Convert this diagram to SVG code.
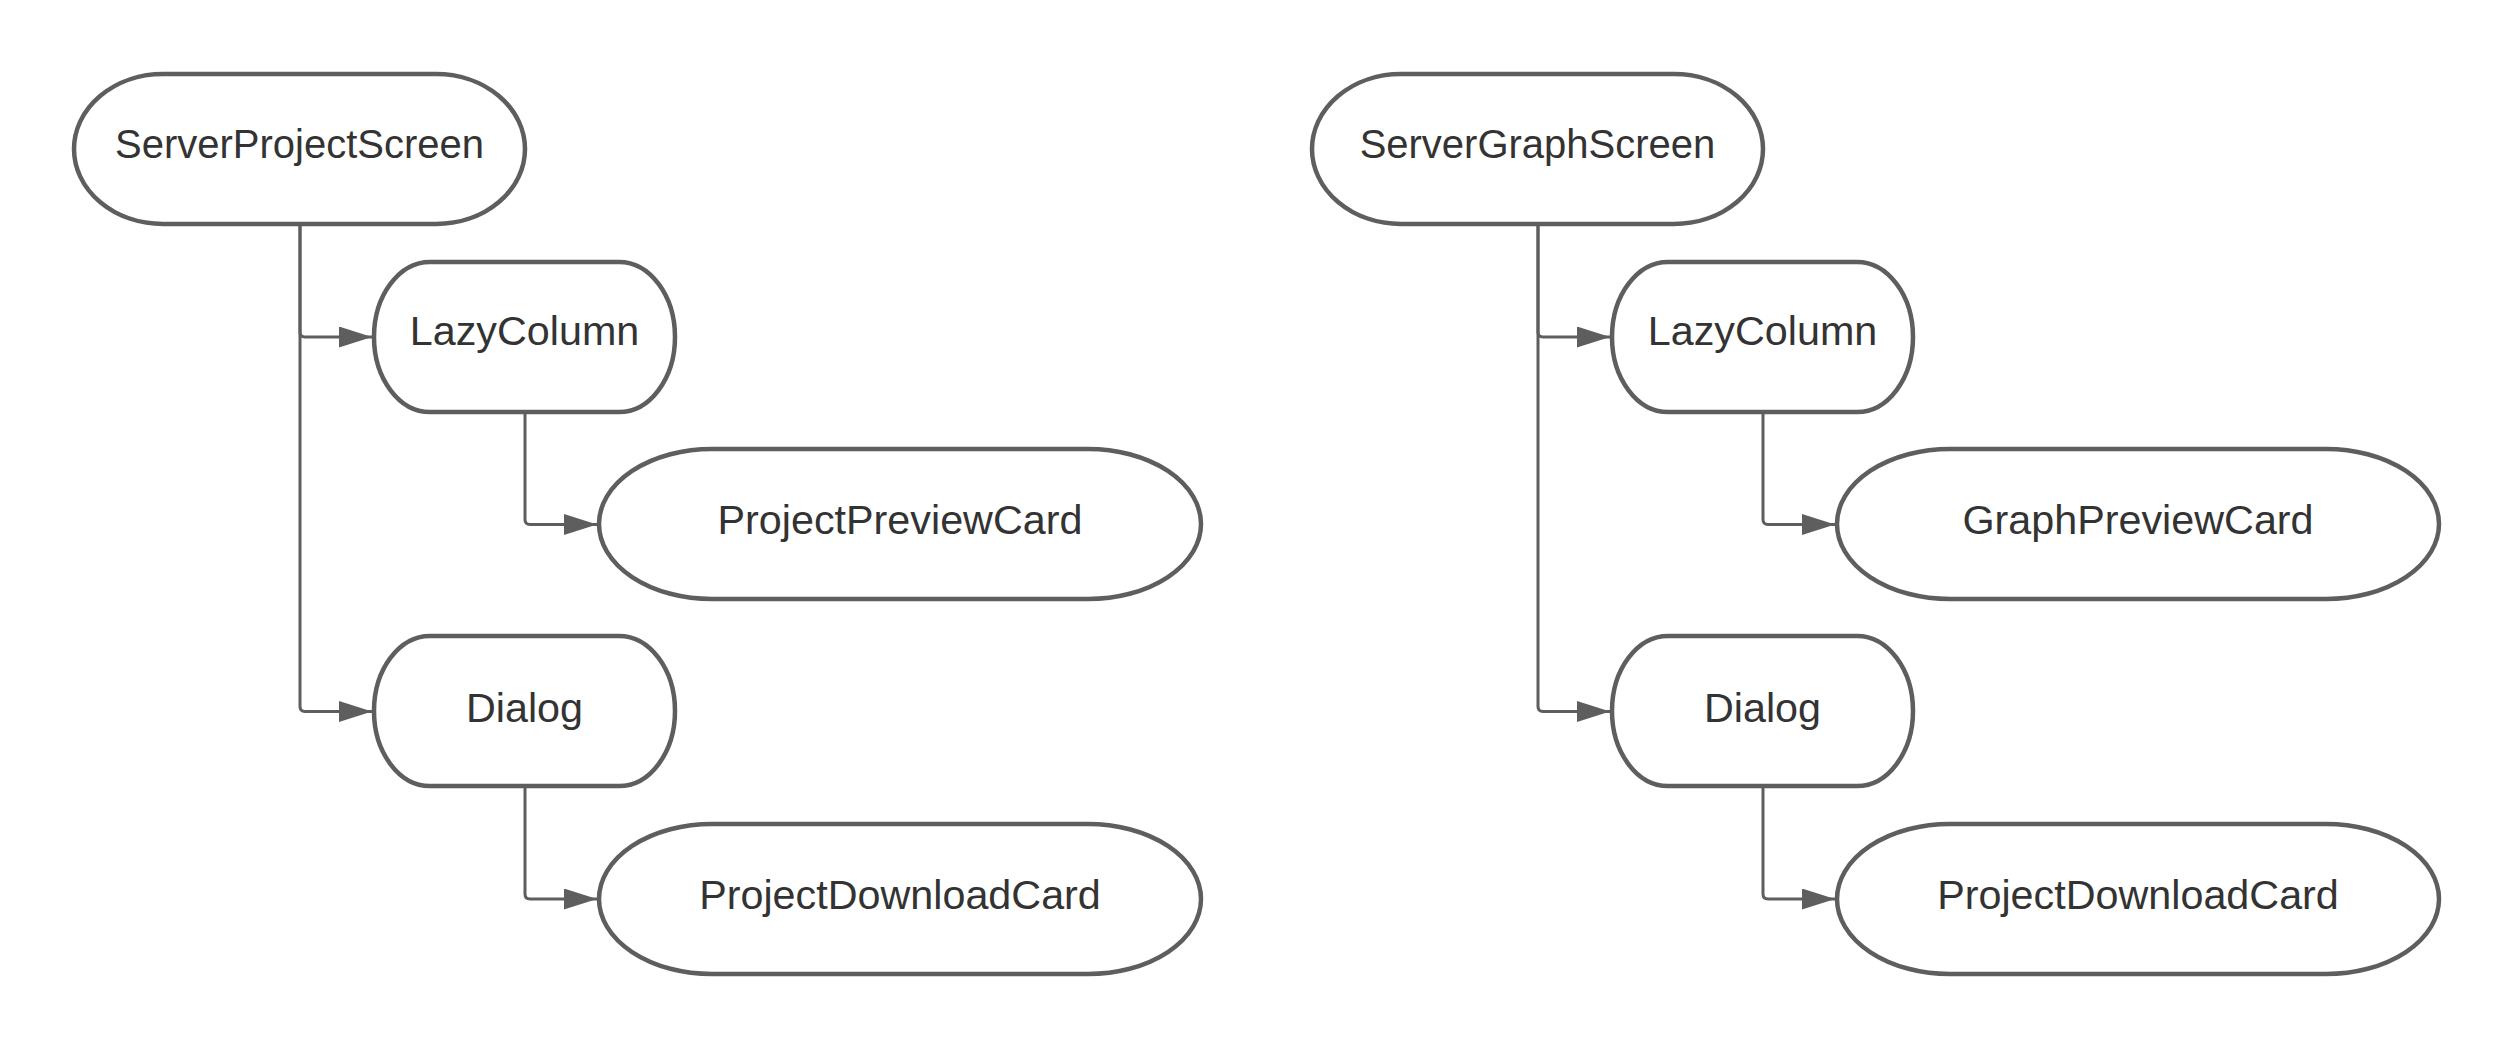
<svg xmlns="http://www.w3.org/2000/svg" width="2513" height="1050" viewBox="0 0 2513 1050">
<style>
.node rect{fill:#ffffff;stroke:#5e5e5e;stroke-width:4.5}
.node text{font-family:"Liberation Sans",Arial,sans-serif;font-size:41.3px;fill:#333333;text-anchor:middle}
.node text.big{font-size:40px}
.edge{fill:none;stroke:#5e5e5e;stroke-width:3;marker-end:url(#arr)}
</style>
<defs>
<marker id="arr" viewBox="0 0 33 21" refX="33" refY="10.5" markerWidth="33" markerHeight="21" markerUnits="userSpaceOnUse" orient="auto">
<path d="M0,0 L33,10.5 L0,21 z" fill="#5e5e5e"/>
</marker>
</defs>
<rect width="2513" height="1050" fill="#ffffff"/>
<g id="connectors">
<path class="edge" d="M300,226 V332 Q300,337 305,337 H372"/>
<path class="edge" d="M300,226 V706.5 Q300,711.5 305,711.5 H372"/>
<path class="edge" d="M525,413 V519.5 Q525,524.5 530,524.5 H597"/>
<path class="edge" d="M525,787 V894 Q525,899 530,899 H597"/>
<path class="edge" d="M1538,226 V332 Q1538,337 1543,337 H1610"/>
<path class="edge" d="M1538,226 V706.5 Q1538,711.5 1543,711.5 H1610"/>
<path class="edge" d="M1763,413 V519.5 Q1763,524.5 1768,524.5 H1835"/>
<path class="edge" d="M1763,787 V894 Q1763,899 1768,899 H1835"/>
</g>
<g id="serverProjectScreen" class="node"><rect x="74" y="74" width="451" height="150" rx="89" ry="75"/><text class="big" x="299.5" y="157.5">ServerProjectScreen</text></g>
<g id="lazyColumn1" class="node"><rect x="374" y="262" width="301" height="150" rx="56" ry="75"/><text x="524.5" y="345">LazyColumn</text></g>
<g id="projectPreviewCard" class="node"><rect x="599" y="449" width="602" height="150" rx="113" ry="75"/><text x="900" y="534">ProjectPreviewCard</text></g>
<g id="dialog1" class="node"><rect x="374" y="636" width="301" height="150" rx="56" ry="75"/><text x="524.5" y="721.5">Dialog</text></g>
<g id="projectDownloadCard1" class="node"><rect x="599" y="824" width="602" height="150" rx="113" ry="75"/><text x="900" y="908.5">ProjectDownloadCard</text></g>
<g id="serverGraphScreen" class="node"><rect x="1312" y="74" width="451" height="150" rx="89" ry="75"/><text class="big" x="1537.5" y="157.5">ServerGraphScreen</text></g>
<g id="lazyColumn2" class="node"><rect x="1612" y="262" width="301" height="150" rx="56" ry="75"/><text x="1762.5" y="345">LazyColumn</text></g>
<g id="graphPreviewCard" class="node"><rect x="1837" y="449" width="602" height="150" rx="113" ry="75"/><text x="2138" y="534">GraphPreviewCard</text></g>
<g id="dialog2" class="node"><rect x="1612" y="636" width="301" height="150" rx="56" ry="75"/><text x="1762.5" y="721.5">Dialog</text></g>
<g id="projectDownloadCard2" class="node"><rect x="1837" y="824" width="602" height="150" rx="113" ry="75"/><text x="2138" y="908.5">ProjectDownloadCard</text></g>
</svg>
